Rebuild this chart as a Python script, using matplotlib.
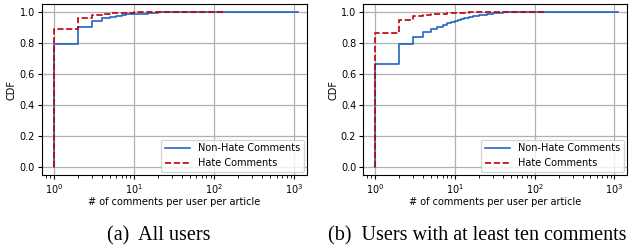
import matplotlib
matplotlib.use("Agg")
import matplotlib.pyplot as plt

# CDF steps: x = comments per user per article
# (a) all users
a_nonhate_x = [1, 1, 2, 3, 4, 5, 6, 7, 8, 10, 15, 20, 30, 50, 100, 1100]
a_nonhate_y = [0, 0.795, 0.905, 0.94, 0.958, 0.968, 0.975, 0.98, 0.984, 0.988, 0.993, 0.996, 0.998, 0.999, 1.0, 1.0]
a_hate_x = [1, 1, 2, 3, 4, 5, 7, 10, 20, 50, 140]
a_hate_y = [0, 0.89, 0.962, 0.978, 0.985, 0.99, 0.993, 0.996, 0.998, 0.999, 1.0]

# (b) users with at least ten comments
b_nonhate_x = [1, 1, 2, 3, 4, 5, 6, 7, 8, 9, 10, 11, 12, 13, 14, 15, 17, 20, 25, 30, 40, 60, 100, 1100]
b_nonhate_y = [0, 0.665, 0.79, 0.84, 0.87, 0.89, 0.905, 0.915, 0.925, 0.933, 0.94, 0.947, 0.953, 0.958,
               0.963, 0.967, 0.973, 0.98, 0.988, 0.993, 0.997, 0.999, 1.0, 1.0]
b_hate_x = [1, 1, 2, 3, 4, 5, 6, 8, 10, 15, 20, 50, 140]
b_hate_y = [0, 0.865, 0.945, 0.97, 0.977, 0.983, 0.987, 0.99, 0.994, 0.997, 0.998, 0.999, 1.0]

captions = ["(a)  All users", "(b)  Users with at least ten comments"]

BLUE = "#2462c4"
RED = "#c00000"

plt.rcParams["font.size"] = 7

fig = plt.figure(figsize=(6.36, 2.48), dpi=100)
ax1 = fig.add_axes([0.066, 0.294, 0.417, 0.69])
ax2 = fig.add_axes([0.571, 0.294, 0.415, 0.69])

panels = [(ax1, a_nonhate_x, a_nonhate_y, a_hate_x, a_hate_y),
          (ax2, b_nonhate_x, b_nonhate_y, b_hate_x, b_hate_y)]

for ax, nx, ny, hx, hy in panels:
    ax.step(nx, ny, where="post", color=BLUE, lw=1.2, label="Non-Hate Comments")
    ax.step(hx, hy, where="post", color=RED, lw=1.2, ls="--", label="Hate Comments")
    ax.set_xscale("log")
    ax.set_xlim(10 ** -0.15, 10 ** 3.16)
    ax.set_ylim(-0.05, 1.05)
    ax.set_yticks([0, 0.2, 0.4, 0.6, 0.8, 1.0])
    ax.grid(True, color="#b0b0b0", lw=0.9)
    ax.set_axisbelow(True)
    ax.set_xlabel("# of comments per user per article", labelpad=1)
    ax.set_ylabel("CDF", labelpad=2)
    ax.tick_params(length=3, pad=2)
    ax.legend(loc="lower right", fontsize=7, handlelength=2.6, borderaxespad=0.3)

for xc, cap in zip([0.25, 0.75], captions):
    fig.text(xc, 0.05, cap, ha="center", va="center",
             family="Liberation Serif", fontsize=14.5)

fig.savefig("out.png", dpi=100)
